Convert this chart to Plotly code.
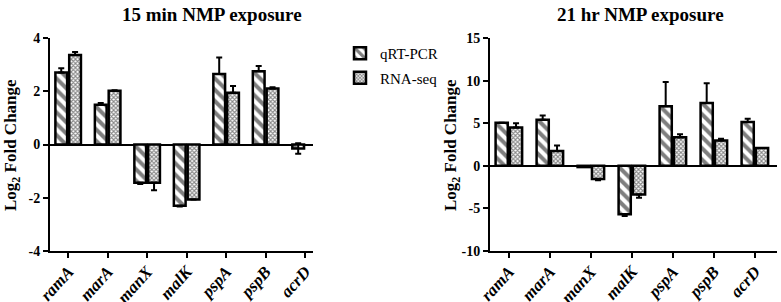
import plotly.graph_objects as go

genes = ["ramA", "marA", "manX", "malK", "pspA", "pspB", "acrD"]
gene_labels = ["<b><i>" + g + "</i></b>" for g in genes]

# 15 min exposure
qrt_15 = [2.70, 1.49, -1.44, -2.30, 2.65, 2.75, -0.15]
qrt_15_err_up = [0.16, 0.07, 0.0, 0.0, 0.62, 0.20, 0.20]
qrt_15_err_dn = [0.0, 0.0, 0.04, 0.03, 0.0, 0.0, 0.20]
rna_15 = [3.36, 2.02, -1.44, -2.07, 1.94, 2.10, None]
rna_15_err_up = [0.11, 0.02, 0.0, 0.0, 0.26, 0.05, 0]
rna_15_err_dn = [0.0, 0.0, 0.28, 0.0, 0.0, 0.0, 0]

# 21 hr exposure
qrt_21 = [5.05, 5.40, -0.15, -5.70, 7.00, 7.38, 5.13]
qrt_21_err_up = [0.0, 0.5, 0.0, 0.0, 2.85, 2.30, 0.40]
qrt_21_err_dn = [0.0, 0.0, 0.0, 0.2, 0.0, 0.0, 0.0]
rna_21 = [4.50, 1.75, -1.55, -3.36, 3.36, 2.96, 2.09]
rna_21_err_up = [0.50, 0.62, 0.0, 0.0, 0.35, 0.22, 0.0]
rna_21_err_dn = [0.0, 0.0, 0.15, 0.40, 0.0, 0.0, 0.0]

yticks_15 = [-4, -2, 0, 2, 4]
yticks_21 = [-10, -5, 0, 5, 10, 15]

FONT = "Liberation Serif"

qrt_marker = dict(color="white", line=dict(color="black", width=2.5),
                  pattern=dict(shape="\\", fgcolor="black", bgcolor="white",
                               size=8, solidity=0.5))
rna_marker = dict(color="white", line=dict(color="black", width=2.5),
                  pattern=dict(shape="x", fgcolor="#111111", bgcolor="white",
                               size=3, solidity=0.6))

def err(up, dn):
    return dict(type="data", symmetric=False, array=up, arrayminus=dn,
                color="black", thickness=2, width=3)

fig = go.Figure()
fig.add_trace(go.Bar(x=gene_labels, y=qrt_15, name="qRT-PCR", marker=qrt_marker,
                     error_y=err(qrt_15_err_up, qrt_15_err_dn),
                     xaxis="x", yaxis="y", legendgroup="q"))
fig.add_trace(go.Bar(x=gene_labels, y=rna_15, name="RNA-seq", marker=rna_marker,
                     error_y=err(rna_15_err_up, rna_15_err_dn),
                     xaxis="x", yaxis="y", legendgroup="r"))
fig.add_trace(go.Bar(x=gene_labels, y=qrt_21, name="qRT-PCR", marker=qrt_marker,
                     error_y=err(qrt_21_err_up, qrt_21_err_dn),
                     xaxis="x2", yaxis="y2", legendgroup="q", showlegend=False))
fig.add_trace(go.Bar(x=gene_labels, y=rna_21, name="RNA-seq", marker=rna_marker,
                     error_y=err(rna_21_err_up, rna_21_err_dn),
                     xaxis="x2", yaxis="y2", legendgroup="r", showlegend=False))

ydom = [1 - 251 / 302, 1 - 38 / 302]
xcommon = dict(showline=True, linecolor="black", linewidth=2, ticks="outside",
               ticklen=5, tickwidth=2, tickcolor="black", tickangle=-48,
               tickfont=dict(family=FONT, size=17, color="black"),
               ticklabelstandoff=-3, automargin=False,
               showgrid=False, zeroline=False)
ycommon = dict(showline=True, linecolor="black", linewidth=2, ticks="outside",
               ticklen=5, tickwidth=2, tickcolor="black", automargin=False,
               tickfont=dict(family=FONT, size=14, color="black"),
               showgrid=False, zeroline=True, zerolinecolor="black",
               zerolinewidth=2, domain=ydom)

fig.update_layout(
    width=781, height=302,
    margin=dict(l=0, r=0, t=0, b=0, autoexpand=False),
    paper_bgcolor="white", plot_bgcolor="white",
    barmode="group", bargap=0.3, bargroupgap=0.15,
    showlegend=True,
    legend=dict(x=340 / 781, y=1 - 37 / 302, xanchor="left", yanchor="top",
                font=dict(family=FONT, size=15, color="black"),
                bgcolor="rgba(0,0,0,0)", tracegroupgap=2),
    xaxis=dict(**xcommon, anchor="y", domain=[50 / 781, 313 / 781], range=[-0.46, 6.2]),
    yaxis=dict(**ycommon, anchor="x", range=[-4, 4], tickvals=yticks_15,
               ticktext=["<b>%d</b>" % v for v in yticks_15]),
    xaxis2=dict(**xcommon, anchor="y2", domain=[490 / 781, 777 / 781], range=[-0.46, 6.54]),
    yaxis2=dict(**ycommon, anchor="x2", range=[-10, 15], tickvals=yticks_21,
                ticktext=["<b>%d</b>" % v for v in yticks_21]),
)

annots = [
    dict(text="<b>15 min NMP exposure</b>", x=212 / 781, y=1 - 14 / 302, size=19),
    dict(text="<b>21 hr NMP exposure</b>", x=640 / 781, y=1 - 14 / 302, size=19),
    dict(text="<b>Log<sub>2</sub> Fold Change</b>", x=12 / 781, y=1 - 145 / 302,
         textangle=-90, size=17),
    dict(text="<b>Log<sub>2</sub> Fold Change</b>", x=452 / 781, y=1 - 145 / 302,
         textangle=-90, size=17),
]
for a in annots:
    size = a.pop("size")
    fig.add_annotation(**a, xref="paper", yref="paper", showarrow=False,
                       xanchor="center", yanchor="middle",
                       font=dict(family=FONT, color="black", size=size))

fig.write_html("out.html", config={"displayModeBar": False},
               post_script="document.body.style.margin='0px';document.body.style.padding='0px';")
